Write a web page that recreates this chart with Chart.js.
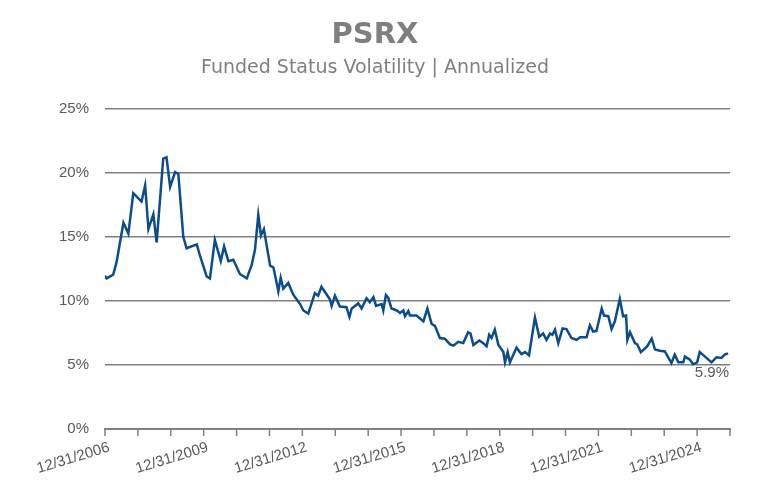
<!DOCTYPE html>
<html><head><meta charset="utf-8">
<script src="https://cdn.jsdelivr.net/npm/chart.js@4/dist/chart.umd.min.js"></script>
<style>html,body{margin:0;padding:0;background:#fff}#w{width:768px;height:501px}</style>
</head><body><div id="w"><canvas id="c"></canvas></div>
<script>
const dates = [2006.95,2007.05,2007.25,2007.35,2007.56,2007.71,2007.86,2008.11,2008.22,2008.32,2008.47,2008.57,2008.77,2008.87,2008.98,2009.13,2009.23,2009.38,2009.48,2009.79,2009.89,2010.09,2010.19,2010.34,2010.52,2010.62,2010.75,2010.90,2011.10,2011.31,2011.46,2011.56,2011.66,2011.74,2011.83,2012.02,2012.12,2012.27,2012.34,2012.42,2012.57,2012.72,2012.93,2013.03,2013.18,2013.38,2013.48,2013.58,2013.84,2013.89,2013.99,2014.14,2014.34,2014.43,2014.50,2014.70,2014.80,2014.95,2015.05,2015.16,2015.24,2015.41,2015.46,2015.54,2015.61,2015.71,2015.87,2015.97,2016.07,2016.12,2016.22,
2016.27,2016.47,2016.68,2016.80,2016.93,2017.03,2017.18,2017.33,2017.49,2017.59,2017.74,2017.89,2018.04,2018.11,2018.20,2018.38,2018.50,2018.60,2018.68,2018.75,2018.85,2018.96,2019.11,2019.16,2019.24,2019.31,2019.51,2019.66,2019.77,2019.89,2020.07,2020.20,2020.32,2020.42,2020.53,2020.60,2020.68,2020.78,2020.91,2021.03,2021.18,2021.34,2021.44,2021.64,2021.74,2021.84,2021.94,2022.10,2022.17,2022.30,2022.40,2022.50,2022.65,2022.75,2022.84,2022.88,2022.96,2023.11,2023.18,2023.29,2023.48,2023.62,2023.72,2023.87,2024.02,2024.22,2024.32,2024.43,2024.58,2024.63,2024.78,2024.88,2025.00,2025.08,2025.24,2025.44,2025.59,2025.74,2025.84,2025.94];
const volatility = [12.05,11.75,12.05,13,16.1,15.25,18.4,17.75,19,15.6,16.75,14.55,21.1,21.2,18.9,20.05,19.9,15,14.1,14.4,13.5,11.9,11.75,14.75,13.1,14.25,13.1,13.2,12.1,11.75,12.8,14,16.7,15.1,15.6,12.75,12.6,10.75,11.8,10.95,11.4,10.5,9.75,9.25,9,10.6,10.4,11.1,10.1,9.6,10.4,9.55,9.5,8.75,9.4,9.8,9.4,10.2,9.9,10.3,9.6,9.75,9.25,10.45,10.25,9.4,9.25,9.05,9.25,8.8,9.2,
8.85,8.85,8.4,9.4,8.2,8.05,7.1,7.05,6.6,6.5,6.8,6.7,7.55,7.45,6.55,6.9,6.7,6.45,7.35,7.1,7.75,6.55,6,5.2,6,5.2,6.35,5.85,6,5.75,8.7,7.2,7.45,6.95,7.45,7.35,7.75,6.7,7.85,7.8,7.1,6.95,7.15,7.15,8.1,7.6,7.65,9.4,8.85,8.8,7.8,8.4,10.15,8.8,8.85,6.95,7.55,6.7,6.6,6,6.45,7.05,6.2,6.1,6.05,5.15,5.8,5.2,5.2,5.65,5.4,5.05,5.2,6,5.65,5.2,5.6,5.55,5.8,5.9];
const yTicks = [0,5,10,15,20,25];
const labelYears = [2006,2009,2012,2015,2018,2021,2024];
const titleText = 'PSRX';
const subtitleText = 'Funded Status Volatility | Annualized';
const lastLabel = '5.9%';

const extras = {id:'extras',afterDraw(ch){
  const g = ch.ctx, xs = ch.scales.x, area = ch.chartArea;
  g.save();
  g.strokeStyle='#808080'; g.lineWidth=1.5;
  for(let v=2007; v<=2026; v++){ const x = xs.getPixelForValue(v);
    g.beginPath(); g.moveTo(x, area.bottom); g.lineTo(x, area.bottom+7); g.stroke(); }
  g.fillStyle='#595959'; g.font='15px "Liberation Sans", Arial';
  g.textAlign='right'; g.textBaseline='top';
  labelYears.forEach(y=>{ const x = xs.getPixelForValue(y+1);
    g.save(); g.translate(x+2, area.bottom+11); g.rotate(-17*Math.PI/180);
    g.fillText('12/31/'+y, 0, 0); g.restore(); });
  const m = ch.getDatasetMeta(0).data; const p = m[m.length-1];
  g.textBaseline='middle'; g.fillText(lastLabel, p.x+1, p.y+19);
  g.restore();
}};

new Chart(document.getElementById('c'),{
  type:'line',
  data:{datasets:[{data:dates.map((d,i)=>({x:d,y:volatility[i]})),borderColor:'#0b4d8c',borderWidth:2.5,pointRadius:0,tension:0,fill:false}]},
  options:{responsive:true,maintainAspectRatio:false,animation:false,
    layout:{padding:{left:20,right:38,top:8,bottom:64}},
    plugins:{legend:{display:false},tooltip:{enabled:false},
      title:{display:true,text:titleText,color:'#7f7f7f',font:{family:'DejaVu Sans',size:29,weight:'bold'},padding:{top:10,bottom:4}},
      subtitle:{display:true,text:subtitleText,color:'#7f7f7f',font:{family:'"DejaVu Sans"',size:19},padding:{bottom:29}}},
    scales:{
      x:{type:'linear',min:2007,max:2026,
        ticks:{display:false},
        grid:{display:false},
        border:{color:'#808080',width:2}},
      y:{min:0,max:25,
        afterBuildTicks(ax){ax.ticks=yTicks.map(v=>({value:v}));},
        afterFit(ax){ax.width=85;},
        ticks:{color:'#595959',font:{family:'"Liberation Sans", Arial',size:15},padding:16,callback:v=>v+'%'},
        grid:{color:(c)=>c.tick&&c.tick.value===0?'rgba(0,0,0,0)':'#808080',lineWidth:1.5,drawTicks:false},
        border:{display:false}}
    }},
  plugins:[extras]
});
</script></body></html>
